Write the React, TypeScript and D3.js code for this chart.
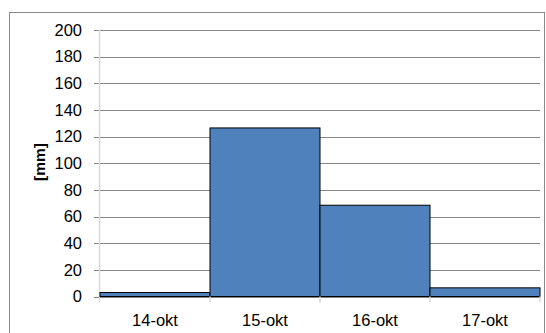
import React from "react";
import * as d3 from "d3";

const categories = ["14-okt", "15-okt", "16-okt", "17-okt"];
const values = [3, 126.5, 68.5, 6.5];
const yTicks = [0, 20, 40, 60, 80, 100, 120, 140, 160, 180, 200];

export default function App() {
  const W = 546, H = 333;
  const left = 100, right = 540, top = 30, bottom = 296.5;
  const x = d3.scaleBand<string>().domain(categories).range([left, right]).padding(0);
  const y = d3.scaleLinear().domain([0, 200]).range([bottom, top]);
  const font = "'Liberation Sans', Arial, sans-serif";
  return (
    <svg width={W} height={H} style={{ position: "absolute", left: 0, top: 0, background: "#fff" }}>
      <rect x={9.5} y={12.5} width={535} height={330} fill="#fff" stroke="#898989" strokeWidth={1} />
      {yTicks.map((t) => (
        <g key={t}>
          {t > 0 && <line x1={94} x2={right} y1={Math.round(y(t)) + 0.5} y2={Math.round(y(t)) + 0.5} stroke="#868686" />}
          {t === 0 && <line x1={94} x2={left} y1={Math.round(y(t)) + 0.5} y2={Math.round(y(t)) + 0.5} stroke="#868686" />}
          <text x={82} y={y(t)} dy="0.35em" textAnchor="end" fontFamily={font} fontSize={16.5} fill="#000">{t}</text>
        </g>
      ))}
      <line x1={left - 0.5} x2={left - 0.5} y1={top} y2={bottom + 6} stroke="#d9d9d9" strokeWidth={1.5} />
      {categories.map((c, i) => (
        <rect key={c} x={x(c)!} y={y(values[i])} width={x.bandwidth()} height={bottom - y(values[i])}
          fill="#4F81BD" stroke="#000" strokeWidth={1} />
      ))}
      <line x1={left} x2={right} y1={Math.round(bottom) + 0.5} y2={Math.round(bottom) + 0.5} stroke="#868686" />
      {categories.map((c) => (
        <line key={"t" + c} x1={x(c)! + x.bandwidth()} x2={x(c)! + x.bandwidth()} y1={bottom} y2={bottom + 6} stroke="#d9d9d9" strokeWidth={1.5} />
      ))}
      {categories.map((c) => (
        <text key={"l" + c} x={x(c)! + x.bandwidth() / 2} y={320} dy="0.35em" textAnchor="middle" fontFamily={font} fontSize={16.5} fill="#000">{c}</text>
      ))}
      <text transform={`translate(40,162) rotate(-90)`} textAnchor="middle" dy="0.35em" fontFamily={font} fontSize={15.5} fontWeight="bold" fill="#000">[mm]</text>
    </svg>
  );
}
